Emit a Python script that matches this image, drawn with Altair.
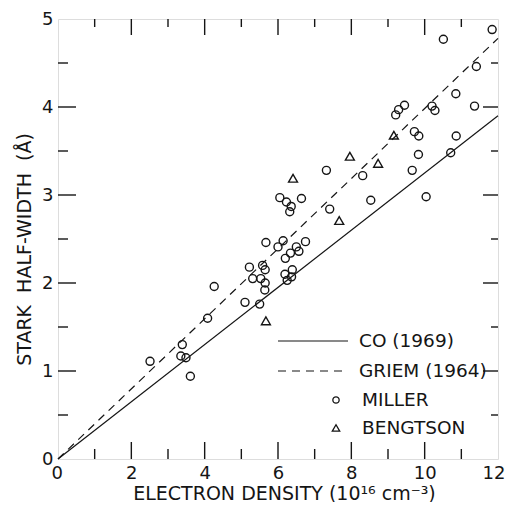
import altair as alt
import pandas as pd

# ---- data ----
miller_x = [2.51, 3.39, 3.35, 3.49, 3.61, 4.08, 4.26, 5.10, 5.50, 5.22, 5.31, 5.53, 5.58, 5.65,
            5.65, 5.64, 5.67, 6.00, 6.14, 6.50, 6.75, 6.34, 6.57, 6.20, 6.19, 6.39, 6.37, 6.25,
            6.05, 6.23, 6.36, 6.32, 6.64, 7.32, 7.41, 8.31, 8.53, 9.21, 9.29, 9.45, 9.66, 9.72,
            9.84, 9.83, 10.04, 10.20, 10.28, 10.51, 10.71, 10.85, 10.86, 11.36, 11.41, 11.84]
miller_y = [1.11, 1.30, 1.17, 1.15, 0.94, 1.60, 1.96, 1.78, 1.76, 2.18, 2.05, 2.05, 2.20, 2.15,
            2.00, 1.92, 2.46, 2.41, 2.48, 2.41, 2.47, 2.34, 2.36, 2.28, 2.10, 2.15, 2.07, 2.03,
            2.97, 2.92, 2.87, 2.81, 2.96, 3.28, 2.84, 3.22, 2.94, 3.91, 3.97, 4.02, 3.28, 3.72,
            3.67, 3.46, 2.98, 4.01, 3.96, 4.77, 3.48, 4.15, 3.67, 4.01, 4.46, 4.88]
bengtson_x = [5.67, 6.41, 7.67, 7.96, 8.73, 9.16]
bengtson_y = [1.57, 3.19, 2.71, 3.44, 3.36, 3.68]
co_x = [0, 12]
co_y = [0, 3.9]
griem_x = [0, 12]
griem_y = [0, 4.78]
x_label_values = [0, 2, 4, 6, 8, 10, 12]
y_label_values = [0, 1, 2, 3, 4, 5]
x_major = [2, 4, 6, 8, 10]
x_minor = [1, 3, 5, 7, 9, 11]
y_major = [1, 2, 3, 4]
y_minor = [0.5, 1.5, 2.5, 3.5, 4.5]
legend_labels = ["CO (1969)", "GRIEM (1964)", "MILLER", "BENGTSON"]

W, H = 440, 440
XMAX, YMAX = 12, 5
FONT = "DejaVu Sans"
INK = "#151515"
NB = "\u00a0"

xs = alt.Scale(domain=[0, XMAX], nice=False, zero=False)
ys = alt.Scale(domain=[0, YMAX], nice=False, zero=False)

x_axis = alt.Axis(values=x_label_values, title="ELECTRON DENSITY (10\u00b9\u2076 cm\u207b\u00b3)",
                  tickSize=0, domain=False, grid=False, labelPadding=5, titlePadding=2,
                  labelFontSize=18, titleFontSize=19, labelFont=FONT, titleFont=FONT,
                  labelColor=INK, titleColor=INK, titleFontWeight="normal",
                  labelFlush=True, labelFlushOffset=7, titleX=226)
y_axis = alt.Axis(values=y_label_values, title=f"STARK {NB}HALF-WIDTH {NB}(\u00c5)",
                  tickSize=0, domain=False, grid=False, labelPadding=5, titlePadding=7,
                  labelFontSize=18, titleFontSize=19, labelFont=FONT, titleFont=FONT,
                  labelColor=INK, titleColor=INK, titleFontWeight="normal", titleY=230)


def X(f="x"):
    return alt.X(f"{f}:Q", scale=xs, axis=x_axis)


def Y(f="y"):
    return alt.Y(f"{f}:Q", scale=ys, axis=y_axis)


layers = []

# theory lines
co_df = pd.DataFrame({"x": co_x, "y": co_y})
griem_df = pd.DataFrame({"x": griem_x, "y": griem_y})
layers.append(alt.Chart(co_df).mark_line(color=INK, strokeWidth=1.2).encode(x=X(), y=Y()))
layers.append(alt.Chart(griem_df).mark_line(color=INK, strokeWidth=1.2, strokeDash=[8, 6]).encode(x=X(), y=Y()))

# data points
m_df = pd.DataFrame({"x": miller_x, "y": miller_y})
b_df = pd.DataFrame({"x": bengtson_x, "y": bengtson_y})
layers.append(alt.Chart(m_df).mark_point(shape="circle", size=64, filled=False, color=INK,
                                          strokeWidth=1.4, opacity=1).encode(x=X(), y=Y()))
layers.append(alt.Chart(b_df).mark_point(shape="triangle-up", size=80, filled=False, color=INK,
                                          strokeWidth=1.4, opacity=1).encode(x=X(), y=Y()))

# inward axis ticks on all four sides (frame decoration, placed from the tick lists)
one = pd.DataFrame({"k": [0]})


def tick_rule(x0, y0, x1, y1):
    return alt.Chart(one).mark_rule(color=INK, strokeWidth=1.4).encode(
        x=alt.value(x0), y=alt.value(y0), x2=alt.value(x1), y2=alt.value(y1))


for vals, lb, lt in [(x_major, 17, 16), (x_minor, 10, 8)]:
    for v in vals:
        p = v / XMAX * W
        layers.append(tick_rule(p, H, p, H - lb))
        layers.append(tick_rule(p, 0, p, lt))
for vals, ll, lr in [(y_major, 18, 15), (y_minor, 10, 7)]:
    for v in vals:
        p = H - v / YMAX * H
        layers.append(tick_rule(0, p, ll, p))
        layers.append(tick_rule(W, p, W - lr, p))

# legend
ly = [H - 118, H - 88, H - 59, H - 31]
layers.append(alt.Chart(one).mark_rule(color=INK, strokeWidth=1.2).encode(
    x=alt.value(220), x2=alt.value(290), y=alt.value(ly[0])))
layers.append(alt.Chart(one).mark_rule(color=INK, strokeWidth=1.2, strokeDash=[8, 6]).encode(
    x=alt.value(220), x2=alt.value(290), y=alt.value(ly[1])))
layers.append(alt.Chart(one).mark_point(shape="circle", size=40, filled=False, color=INK,
                                         strokeWidth=1.3, opacity=1).encode(
    x=alt.value(278), y=alt.value(ly[2])))
layers.append(alt.Chart(one).mark_point(shape="triangle-up", size=55, filled=False, color=INK,
                                         strokeWidth=1.3, opacity=1).encode(
    x=alt.value(278), y=alt.value(ly[3])))
for lab, px, py in zip(legend_labels, [301, 301, 304, 304], ly):
    layers.append(alt.Chart(one).mark_text(font=FONT, fontSize=18.5, color=INK, align="left",
                                            baseline="middle").encode(
        x=alt.value(px), y=alt.value(py), text=alt.value(lab)))

chart = alt.layer(*layers).properties(
    width=W, height=H,
    autosize=alt.AutoSizeParams(type="none"),
    padding={"left": 50, "top": 11, "right": 7, "bottom": 43},
).configure_view(stroke=INK, strokeWidth=1.6).configure(background="white")

chart.save("out.html", embed_options={"renderer": "svg", "actions": False})
